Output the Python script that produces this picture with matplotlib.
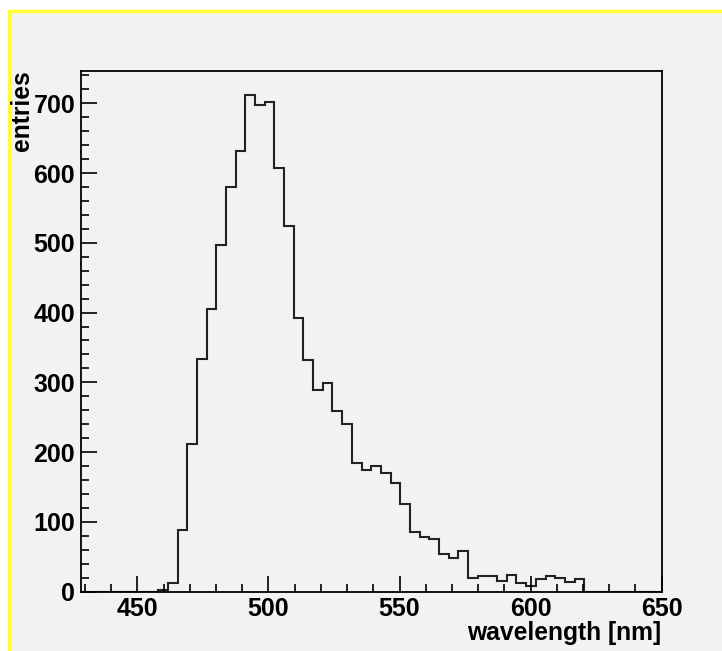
import numpy as np
import matplotlib
matplotlib.use("Agg")
import matplotlib.pyplot as plt
from matplotlib.patches import Rectangle
from matplotlib.ticker import MultipleLocator

plt.rcParams['font.family'] = ['Liberation Sans', 'DejaVu Sans']
plt.rcParams['font.weight'] = 'bold'

# ----- histogram data (60 bins) -----
x_lo, x_hi, n_bins = 428.4, 650.0, 60
counts = [0, 0, 0, 0, 0, 0, 0, 0, 3, 13,
          88, 211, 334, 405, 497, 580, 631, 712, 697, 702,
          607, 524, 392, 332, 289, 299, 259, 241, 184, 174,
          180, 170, 156, 125, 85, 79, 75, 54, 49, 59,
          20, 22, 22, 15, 24, 12, 8, 18, 23, 20,
          14, 18, 0, 0, 0, 0, 0, 0, 0, 0]
x_label = "wavelength [nm]"
y_label = "entries"

W, H = 722, 651
bg = '#f2f2f2'

fig = plt.figure(figsize=(W / 100, H / 100), dpi=100, facecolor='white')

# canvas with the yellow border (only top/left visible)
frame = Rectangle((8.5 / W, -0.1), 1.2, 1.1 - 10.5 / H,
                  transform=fig.transFigure, facecolor=bg,
                  edgecolor='#ffff33', linewidth=2.5, zorder=-10)
fig.patches.append(frame)

ax = fig.add_axes([80.7 / W, 1 - 591.7 / H, (661.7 - 80.7) / W, (591.7 - 71) / H])
ax.set_facecolor(bg)

edges = np.linspace(x_lo, x_hi, n_bins + 1)
ax.stairs(counts, edges, color='#222222', linewidth=1.5, baseline=None)

ax.set_xlim(x_lo, x_hi)
ax.set_ylim(0, max(counts) * 1.048)

for s in ax.spines.values():
    s.set_color('black')
    s.set_linewidth(1.3)

ax.xaxis.set_major_locator(MultipleLocator(50))
ax.xaxis.set_minor_locator(MultipleLocator(10))
ax.yaxis.set_major_locator(MultipleLocator(100))
ax.yaxis.set_minor_locator(MultipleLocator(20))
ax.tick_params(which='both', direction='in', top=False, right=False,
               color='black', width=1.2, labelsize=18)
ax.tick_params(which='major', length=11.5, pad=4)
ax.tick_params(which='minor', length=5.8)
ax.tick_params(axis='y', pad=4)

# axis titles placed like ROOT does (end of axis)
fig.text(661 / W, 1 - 633 / H, x_label, fontsize=17.7, fontweight='bold',
         ha='right', va='center')
fig.text(22 / W, 1 - 70 / H, y_label, fontsize=17.7, fontweight='bold',
         rotation=90, ha='center', va='top')

fig.savefig("out.png", dpi=100, facecolor=fig.get_facecolor())
